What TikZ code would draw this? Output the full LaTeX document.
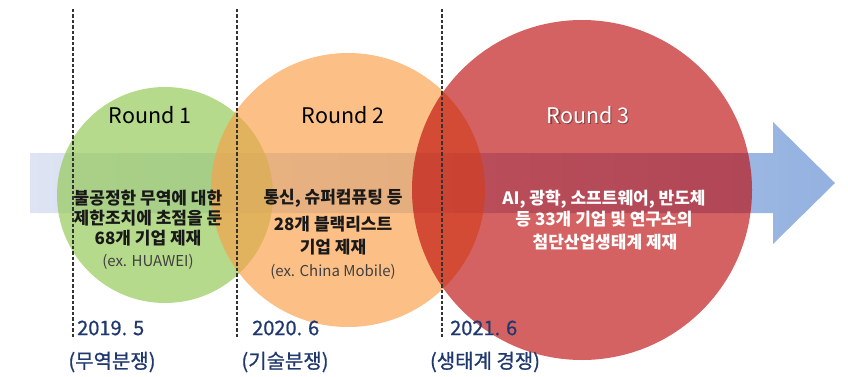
\documentclass[tikz,border=0pt]{standalone}
\usepackage{fontspec}
\setmainfont{Noto Sans CJK KR}
\newfontfamily\medkr[FakeBold=0.8]{Noto Sans CJK KR}
\definecolor{gc}{RGB}{151,202,91}
\definecolor{oc}{RGB}{250,159,73}
\definecolor{rc}{RGB}{189,6,6}
\definecolor{bandL}{RGB}{222,228,243}
\definecolor{bandR}{RGB}{147,177,224}
\definecolor{navy}{RGB}{31,56,110}
\definecolor{txt}{RGB}{25,25,25}
\tikzset{
  roundlbl/.style={inner sep=0pt, font=\fontsize{21.5}{24}\selectfont},
  bodytxt/.style={inner sep=0pt, font=\fontsize{17}{20}\selectfont\bfseries, text=txt},
  extxt/.style={inner sep=0pt, font=\fontsize{15}{17}\selectfont, text=black!75},
  datetxt/.style={inner sep=0pt, anchor=west, font=\medkr\fontsize{20}{24}\selectfont, text=navy},
  eratxt/.style={inner sep=0pt, font=\medkr\fontsize{20}{24}\selectfont, text=navy},
  guide/.style={draw=black!80, line width=1.1pt, dash pattern=on 3.5pt off 2pt}
}
\begin{document}
\begin{tikzpicture}[x=1pt,y=-1pt]
\useasboundingbox (0,0) rectangle (848,377);
% timeline arrow
\shade[left color=bandL,right color=bandR] (30,153) -- (773,153) -- (773,122) -- (835,183) -- (773,244) -- (773,213) -- (30,213) -- cycle;
% circles
\fill[gc,opacity=0.7] (165,195) circle (108pt);
\fill[oc,opacity=0.66] (348,190) circle (137pt);
\fill[rc,opacity=0.63] (582,190) circle (170pt);
% guides
\coordinate (g1t) at (73,9);  \coordinate (g1b) at (73,337);
\coordinate (g2t) at (237,9); \coordinate (g2b) at (237,337);
\coordinate (g3t) at (442,9); \coordinate (g3b) at (442,337);
\draw[guide] (g1t) -- (g1b);
\draw[guide] (g2t) -- (g2b);
\draw[guide] (g3t) -- (g3b);
% round 1
\node[roundlbl] (r1) at (150,115) {Round 1};
\node[bodytxt] (r1a) at (148,198) {불공정한 무역에 대한};
\node[bodytxt] (r1b) at (148,218) {제한조치에 초점을 둔};
\node[bodytxt] (r1c) at (148,238) {68개 기업 제재};
\node[extxt] (r1d) at (148,262) {(ex. HUAWEI)};
% round 2
\node[roundlbl] (r2) at (343,115) {Round 2};
\node[bodytxt] (r2a) at (333,198) {통신, 슈퍼컴퓨팅 등};
\node[bodytxt] (r2b) at (333,224) {28개 블랙리스트};
\node[bodytxt] (r2c) at (333,247) {기업 제재};
\node[extxt] (r2d) at (333,272) {(ex. China Mobile)};
% round 3
\node[roundlbl, text=black, opacity=0.35] (r3s) at (589.5,116.5) {Round 3};
\node[roundlbl, text=white] (r3) at (588,115) {Round 3};
\node[bodytxt, text=white] (r3a) at (604,199) {AI, 광학, 소프트웨어, 반도체};
\node[bodytxt, text=white] (r3b) at (604,219) {등 33개 기업 및 연구소의};
\node[bodytxt, text=white] (r3c) at (605,242) {첨단산업생태계 제재};
% dates
\node[datetxt] (d1) at (77,328) {2019. 5};
\node[datetxt] (d2) at (252,328) {2020. 6};
\node[datetxt] (d3) at (450,328) {2021. 6};
\node[eratxt] (e1) at (112,362) {(무역분쟁)};
\node[eratxt] (e2) at (285,362) {(기술분쟁)};
\node[eratxt] (e3) at (485,362) {(생태계 경쟁)};
\end{tikzpicture}
\end{document}
